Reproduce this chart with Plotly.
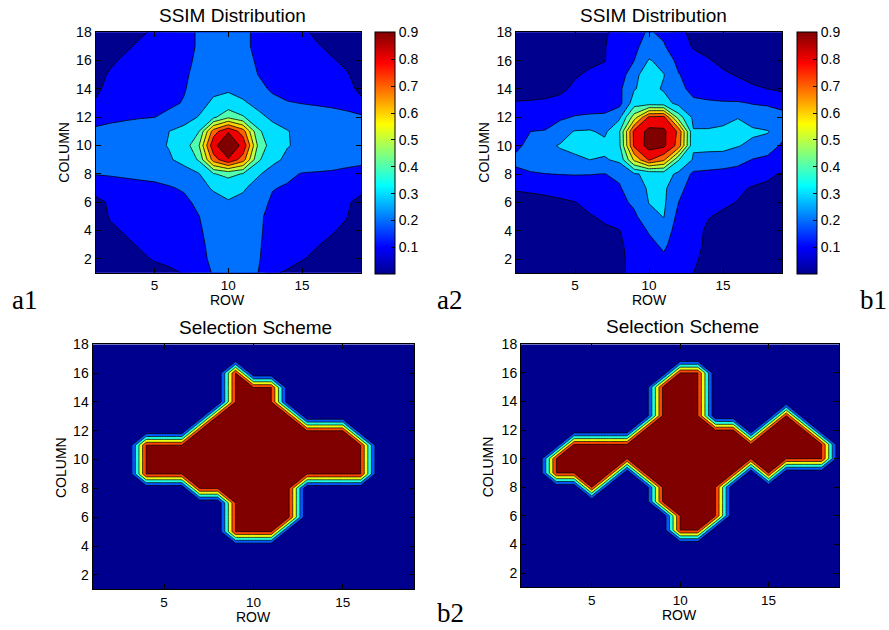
import numpy as np
import plotly.graph_objects as go

# ---------------- data ----------------
ROW = list(range(1, 20))        # x axis ("ROW")
COLUMN = list(range(1, 19))     # y axis ("COLUMN")
X_TICKS = [5, 10, 15]
Y_TICKS = [2, 4, 6, 8, 10, 12, 14, 16, 18]
CBAR_TICKS = [0.1, 0.2, 0.3, 0.4, 0.5, 0.6, 0.7, 0.8, 0.9]
CBAR_TEXT = ["0.1", "0.2", "0.3", "0.4", "0.5", "0.6", "0.7", "0.8", "0.9"]
TITLES = ["SSIM Distribution", "SSIM Distribution", "Selection Scheme", "Selection Scheme"]
PANEL_LABELS = ["a1", "a2", "b1", "b2"]

# SSIM values in percent, rows listed from COLUMN=18 (top) down to COLUMN=1, columns ROW=1..19
SSIM_A1_PCT = [
    [5, 6, 7, 9, 11, 14, 17, 21, 24, 25, 22, 18, 15, 13, 11, 9, 7, 6, 5],
    [6, 7, 9, 11, 13, 15, 17, 21, 24, 25, 22, 18, 16, 14, 12, 10.5, 9, 7, 6],
    [7, 9, 11, 13, 14, 16, 18, 21.5, 25, 26, 23, 19, 17, 15, 13, 12, 10.5, 9, 7],
    [8, 10.7, 12, 13.5, 15, 17, 19, 22, 26, 27, 24, 20, 18, 16, 14, 13, 12, 10.5, 8],
    [9, 11.5, 13, 14.5, 16, 18, 19.5, 23, 27.5, 29, 26, 22, 19, 17, 15, 14, 13, 11.5, 9],
    [10.5, 12.5, 14, 15, 16.5, 18.5, 20.5, 26, 32, 33, 31.5, 27, 22, 20.5, 19.8, 19.3, 19, 17, 11],
    [18, 18.5, 19, 19.5, 19.9, 22, 26, 30.5, 38, 48, 41, 33, 28, 25, 23.5, 23, 22, 22.5, 22],
    [21, 22, 23, 24.5, 27, 30, 33, 39.5, 75, 89.5, 75, 42, 34, 30.5, 27, 25.5, 25, 24.5, 24],
    [25, 26, 27, 28, 28, 30.5, 34, 49, 88, 96, 88, 49, 34, 30.4, 28.5, 28, 27, 26, 25],
    [24, 24.5, 25, 26, 27, 29, 33, 41, 75, 89.5, 75, 42, 32, 28.5, 27, 26, 25, 24, 23.5],
    [20.5, 21, 21.5, 22, 22, 24, 26, 29.5, 39.5, 43, 39.5, 31, 27, 22, 19.5, 19, 18.5, 17, 15],
    [13, 15, 16.5, 17.5, 18.5, 19.3, 21, 27, 31, 33, 31, 27, 20.5, 19, 17.5, 16.5, 15, 14, 12],
    [8, 11, 13, 14.5, 15.5, 16.5, 18, 22, 27, 29.4, 28, 24, 18.5, 16.5, 15.5, 14.5, 13, 11, 8],
    [7, 10.5, 12, 13, 14, 15, 17, 19.8, 24, 28, 26, 22, 17, 15, 14, 13, 12, 10.3, 7],
    [6, 9, 10.5, 12, 13, 14.5, 16.5, 19, 23, 27, 25, 21.5, 17, 15, 13, 12, 10.5, 9, 6],
    [5, 7, 9, 10.5, 12, 14, 16, 18.5, 22, 26.5, 25, 21, 17, 14, 12, 10.3, 9, 7, 5],
    [4, 5, 7, 9, 10.5, 12, 15, 18, 21.5, 26, 24.5, 20.8, 16, 13, 10.3, 9, 7, 5, 4],
    [3, 4, 5, 6.5, 8, 8.5, 10.5, 17, 20.5, 25.5, 24, 20.2, 11, 9, 8, 6.5, 5, 4, 3],
]

SSIM_A2_PCT = [
    [4, 4, 5, 5, 6, 7, 9.5, 11.5, 17, 21, 18, 11, 9, 7, 6, 5, 4, 4, 3],
    [4, 5, 5, 6, 7, 8, 9.8, 12, 18, 24, 21, 13, 9.5, 8, 7, 6, 5, 5, 4],
    [5, 5, 6, 7, 8, 9, 9.8, 13, 20, 30.8, 27, 17, 12, 10.5, 8.5, 7, 6, 5, 5],
    [6, 7, 8, 8.5, 9.5, 10.8, 12, 13, 29, 32, 30.3, 20.5, 16, 13, 11, 9.5, 8, 7, 6],
    [7, 8, 8.5, 9, 11, 12.5, 14, 18, 29.5, 33, 29, 23, 17, 15, 13.5, 12.5, 11, 10, 8],
    [10.5, 10.5, 10.7, 11.5, 12.5, 13.5, 15, 17, 35, 35, 34, 27, 22, 21.5, 21, 21, 19.5, 19, 18],
    [13, 14, 16, 18, 21, 22, 22, 28, 55, 82, 83, 45, 28, 26, 27, 29.7, 26, 24, 22],
    [15, 20, 20.5, 27, 30.5, 31, 28, 39, 83, 93, 92, 78, 30.5, 31, 32, 33, 31.5, 30.5, 25],
    [17, 24, 28.5, 30.5, 31.5, 32, 33, 38, 82, 94, 92, 76, 31, 31.5, 32, 30.5, 28, 27, 18],
    [23, 25, 27, 28, 29, 30, 29, 32, 62, 81, 72, 40.5, 29, 28, 27, 24, 19.5, 17, 14],
    [17, 19, 19.8, 20.3, 20.5, 20.3, 19.8, 22, 29, 32, 34, 28, 18, 17, 16, 15, 13, 11, 9.5],
    [10.5, 10.8, 11, 12.5, 14, 15, 16, 19, 26, 31, 32, 22, 17, 15, 13, 11, 9.5, 9, 8.5],
    [8, 8.5, 9, 9, 9.8, 12, 14, 17, 22, 30.3, 31.5, 20, 15, 12.5, 11, 9.8, 8.5, 7.5, 7],
    [6, 6.5, 7, 8, 8.5, 9.5, 11, 13, 18, 27, 30.3, 17, 12.5, 10.3, 9, 8, 7, 6.5, 6],
    [5, 5.5, 6, 7, 7.5, 8, 9, 9.8, 14, 21, 26, 15, 12, 9, 8, 7, 6, 5.5, 5],
    [4, 4.5, 5, 5.5, 6, 7, 8, 9, 12.5, 17, 22, 14, 11.5, 9, 7.5, 6.5, 5.5, 5, 4],
    [3, 3.5, 4, 4.5, 5, 6, 7, 9, 11.5, 15, 18, 12.5, 10.8, 8.5, 7, 6, 5, 4, 3.5],
    [2, 3, 3.5, 4, 4.5, 5, 6, 9.3, 11, 14, 15, 11.5, 10, 8, 6.5, 5, 4.5, 3.5, 3],
]

# selection masks, rows from COLUMN=18 (top) down to 1, characters are ROW=1..19
MASK_B1 = [
    "0000000000000000000",
    "0000000000000000000",
    "0000000010000000000",
    "0000000011100000000",
    "0000000011100000000",
    "0000000111110000000",
    "0000001111111110000",
    "0001111111111111000",
    "0001111111111111000",
    "0001111111111111000",
    "0000001111110000000",
    "0000000011110000000",
    "0000000011110000000",
    "0000000011100000000",
    "0000000000000000000",
    "0000000000000000000",
    "0000000000000000000",
    "0000000000000000000",
]

MASK_B2 = [
    "0000000000000000000",
    "0000000000000000000",
    "0000000001100000000",
    "0000000011100000000",
    "0000000011100000000",
    "0000000011100001000",
    "0000000111111011100",
    "0001111111111111110",
    "0011111111111111110",
    "0011110111111010000",
    "0000100011110000000",
    "0000000011110000000",
    "0000000001110000000",
    "0000000001100000000",
    "0000000000000000000",
    "0000000000000000000",
    "0000000000000000000",
    "0000000000000000000",
]


def pct_grid(rows):
    return np.array(rows[::-1], dtype=float) / 100.0


def mask_grid(rows):
    return np.array([[int(c) for c in r] for r in rows[::-1]], dtype=float)


Z_A1 = pct_grid(SSIM_A1_PCT)
Z_A2 = pct_grid(SSIM_A2_PCT)
Z_B1 = mask_grid(MASK_B1)
Z_B2 = mask_grid(MASK_B2)

# ---------------- style ----------------
JET = [
    [0.0, "rgb(0,0,143)"],
    [0.111, "rgb(0,0,255)"],
    [0.365, "rgb(0,255,255)"],
    [0.619, "rgb(255,255,0)"],
    [0.873, "rgb(255,0,0)"],
    [1.0, "rgb(128,0,0)"],
]
W, H = 889, 630
SANS = "Liberation Sans, Arial, Helvetica, sans-serif"
SERIF = "Liberation Serif, Times New Roman, serif"


def fx(px):
    return px / W


def fy(py):
    return 1 - py / H


# panel boxes in pixels: (left, right, top, bottom)
BOXES = [
    (95.5, 361.0, 32.3, 272.8),
    (515.8, 782.2, 32.3, 273.2),
    (92.5, 414.3, 344.3, 589.3),
    (521.0, 839.3, 344.3, 587.3),
]
CBARS = [(375.3, 20.4), (797.0, 19.8)]

fig = go.Figure()

ssim_grids = [Z_A1, Z_A2]
mask_grids = [Z_B1, Z_B2]

for i in range(4):
    xa = "x" if i == 0 else "x%d" % (i + 1)
    ya = "y" if i == 0 else "y%d" % (i + 1)
    if i < 2:
        z = ssim_grids[i]
        cx, th = CBARS[i]
        top, bot = BOXES[i][2], 274.3
        fig.add_trace(go.Heatmap(
            x=ROW, y=COLUMN, z=z, colorscale=JET, zmin=0.0, zmax=0.9005,
            showscale=True, hoverinfo="skip", xaxis=xa, yaxis=ya,
            colorbar=dict(
                x=fx(cx), xanchor="left", xpad=0,
                y=fy((top + bot) / 2), yanchor="middle", ypad=0,
                len=(bot - top) / H, lenmode="fraction",
                thickness=th, thicknessmode="pixels",
                outlinewidth=1, outlinecolor="black",
                ticks="inside", ticklen=4, tickcolor="black",
                tickvals=CBAR_TICKS, ticktext=CBAR_TEXT,
                tickfont=dict(family=SANS, size=14, color="black"),
            ),
        ))
        fig.add_trace(go.Contour(
            x=ROW, y=COLUMN, z=z, colorscale=JET, autocontour=False,
            contours=dict(start=0.1, end=0.9, size=0.1, coloring="fill", showlines=True),
            line=dict(color="black", width=0.8, smoothing=0),
            showscale=False, hoverinfo="skip", xaxis=xa, yaxis=ya,
        ))
    else:
        z = mask_grids[i - 2]
        fig.add_trace(go.Contour(
            x=ROW, y=COLUMN, z=z, colorscale=JET, autocontour=False,
            contours=dict(start=0.1999, end=0.9999, size=0.2, coloring="fill", showlines=True),
            line=dict(color="black", width=0.7, smoothing=0),
            showscale=False, hoverinfo="skip", xaxis=xa, yaxis=ya,
        ))

layout = dict(
    width=W, height=H, autosize=False,
    margin=dict(l=0, r=0, t=0, b=0, pad=0, autoexpand=False),
    paper_bgcolor="white", plot_bgcolor="white",
    showlegend=False,
    font=dict(family=SANS, size=14, color="black"),
)

axis_common = dict(
    ticks="inside", ticklen=5, tickcolor="black", tickwidth=1,
    showline=True, linecolor="black", linewidth=1, mirror="ticks",
    showgrid=False, zeroline=False, automargin=False,
)

for i, (l, r, t, b) in enumerate(BOXES):
    sx = "" if i == 0 else str(i + 1)
    layout["xaxis" + sx] = dict(axis_common, range=[1, 19], tickvals=X_TICKS,
                                tickfont=dict(family=SANS, size=13.5, color="black"),
                                domain=[fx(l), fx(r)], anchor="y" + sx)
    layout["yaxis" + sx] = dict(axis_common, range=[1, 18], tickvals=Y_TICKS,
                                tickfont=dict(family=SANS, size=14, color="black"),
                                domain=[fy(b), fy(t)], anchor="x" + sx)

fig.update_layout(**layout)

# titles, axis labels, panel labels
TITLE_POS = [(232, 15), (653, 15), (255.5, 327.5), (682, 326)]
ROW_POS = [(228, 299.5), (649, 300), (253, 617), (679.5, 614.5)]
COL_POS = [(64, 152.7), (484, 152.7), (61, 468), (488.3, 467)]
LABEL_POS = [(10, 300), (435, 300), (858, 300), (435, 613)]

for i in range(4):
    fig.add_annotation(text=TITLES[i], x=fx(TITLE_POS[i][0]), y=fy(TITLE_POS[i][1]),
                       xref="paper", yref="paper", xanchor="center", yanchor="middle",
                       showarrow=False, font=dict(family=SANS, size=19, color="black"))
    fig.add_annotation(text="ROW", x=fx(ROW_POS[i][0]), y=fy(ROW_POS[i][1]),
                       xref="paper", yref="paper", xanchor="center", yanchor="middle",
                       showarrow=False, font=dict(family=SANS, size=14, color="black"))
    fig.add_annotation(text="COLUMN", x=fx(COL_POS[i][0]), y=fy(COL_POS[i][1]),
                       xref="paper", yref="paper", xanchor="center", yanchor="middle",
                       textangle=-90, showarrow=False,
                       font=dict(family=SANS, size=14, color="black"))
    fig.add_annotation(text=PANEL_LABELS[i], x=fx(LABEL_POS[i][0]), y=fy(LABEL_POS[i][1]),
                       xref="paper", yref="paper", xanchor="left", yanchor="middle",
                       showarrow=False, font=dict(family=SERIF, size=27, color="black"))

fig.write_html("out.html")
